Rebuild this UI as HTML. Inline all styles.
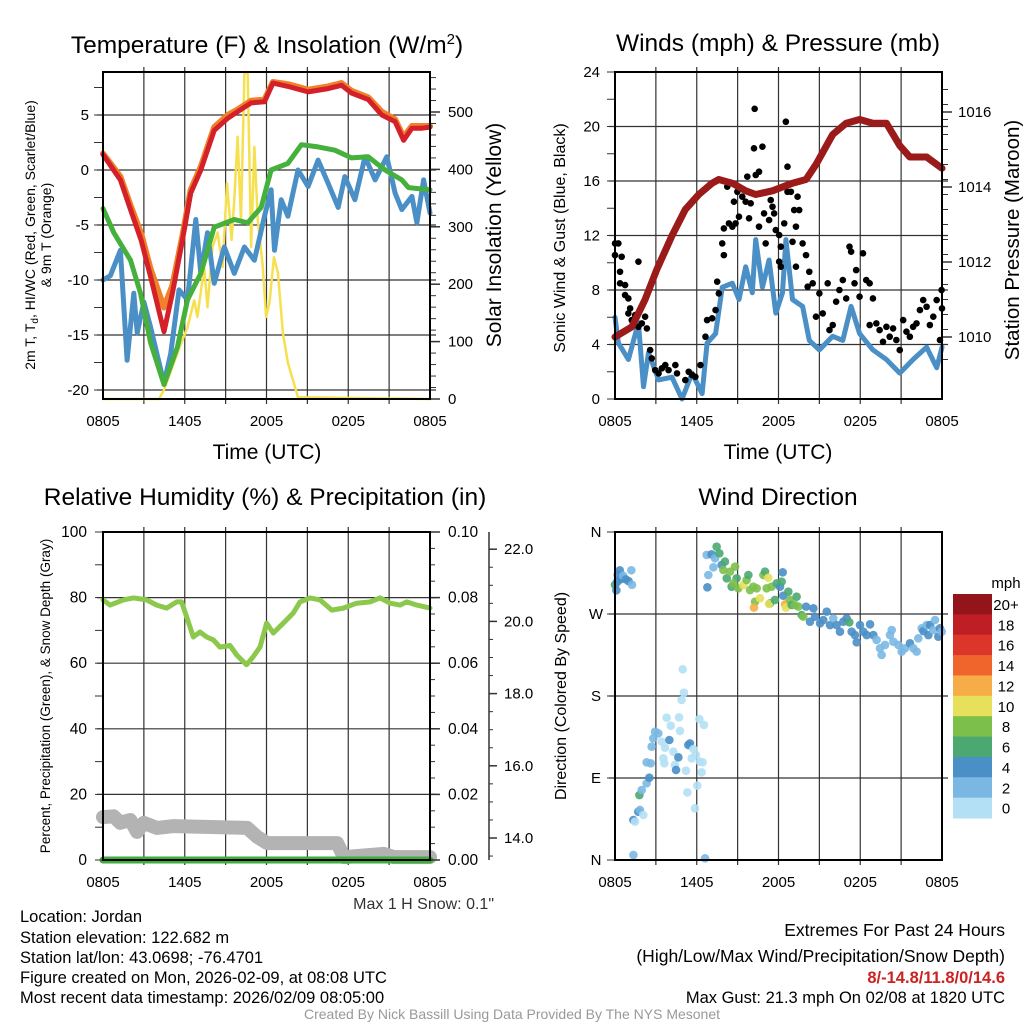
<!DOCTYPE html>
<html><head><meta charset="utf-8"><style>
html,body{margin:0;padding:0;background:#fff}
svg{display:block;font-family:"Liberation Sans",sans-serif}
</style></head><body>
<svg id="fig" xmlns="http://www.w3.org/2000/svg" width="1024" height="1024" viewBox="0 0 1024 1024">
<rect width="1024" height="1024" fill="#fff"/>
<g font-size="24.5" text-anchor="middle" fill="#000">
<text x="267" y="53">Temperature (F) &amp; Insolation (W/m<tspan dy="-9" font-size="15">2</tspan><tspan dy="9">)</tspan></text>
<text x="778" y="51">Winds (mph) &amp; Pressure (mb)</text>
<text x="265" y="505">Relative Humidity (%) &amp; Precipitation (in)</text>
<text x="778" y="505">Wind Direction</text>
</g>
<g font-size="21" text-anchor="middle">
<text x="267" y="459">Time (UTC)</text>
<text x="778" y="459">Time (UTC)</text>
</g>
<text transform="translate(35,235) rotate(-90)" font-size="14" text-anchor="middle">2m T, T<tspan font-size="10" dy="3">d</tspan><tspan dy="-3">, HI/WC (Red, Green, Scarlet/Blue)</tspan></text>
<text transform="translate(51,235) rotate(-90)" font-size="14" text-anchor="middle">&amp; 9m T (Orange)</text>
<text transform="translate(501,235) rotate(-90)" font-size="21" text-anchor="middle">Solar Insolation (Yellow)</text>
<text transform="translate(565,238) rotate(-90)" font-size="16" text-anchor="middle">Sonic Wind &amp; Gust (Blue, Black)</text>
<text transform="translate(1019,240) rotate(-90)" font-size="20.5" text-anchor="middle">Station Pressure (Maroon)</text>
<text transform="translate(50,696) rotate(-90)" font-size="13.5" text-anchor="middle">Percent, Precipitation (Green), &amp; Snow Depth (Gray)</text>
<text transform="translate(566,696) rotate(-90)" font-size="16" text-anchor="middle">Direction (Colored By Speed)</text>
<text x="1006" y="588" font-size="15" text-anchor="middle">mph</text>
<text x="494" y="909" font-size="16" text-anchor="end" fill="#333">Max 1 H Snow: 0.1"</text>
<g font-size="16.5" fill="#000">
<text x="20" y="922">Location: Jordan</text>
<text x="20" y="943">Station elevation: 122.682 m</text>
<text x="20" y="963">Station lat/lon: 43.0698; -76.4701</text>
<text x="20" y="983">Figure created on Mon, 2026-02-09, at 08:08 UTC</text>
<text x="20" y="1003">Most recent data timestamp: 2026/02/09 08:05:00</text>
</g>
<g font-size="17.5" text-anchor="end">
<text x="1005" y="936">Extremes For Past 24 Hours</text>
<text x="1005" y="962">(High/Low/Max Wind/Precipitation/Snow Depth)</text>
<text x="1005" y="983" fill="#cc2222" font-weight="bold" font-size="16.5">8/-14.8/11.8/0/14.6</text>
<text x="1005" y="1003" font-size="16.5">Max Gust: 21.3 mph On 02/08 at 1820 UTC</text>
</g>
<text x="512" y="1019" font-size="14" fill="#999" text-anchor="middle">Created By Nick Bassill Using Data Provided By The NYS Mesonet</text>
</svg>
<script>
// ---------- DATA ----------
const xTickLabels = ["0805","1405","2005","0205","0805"];
const tempTicks = [5,0,-5,-10,-15,-20];
const solarTicks = [0,100,200,300,400,500];
const windTicks = [0,4,8,12,16,20,24];
const pressTicks = [1010,1012,1014,1016];
const rhTicks = [0,20,40,60,80,100];
const precipTickLabels = ["0.00","0.02","0.04","0.06","0.08","0.10"];
const snowTicks = [14,16,18,20,22];
const dirLabels = ["N","E","S","W","N"];
const dirTicks = [0,90,180,270,360];
const speedBinLabels = ["20+","18","16","14","12","10","8","6","4","2","0"];
const speedBinColors = ["#941519","#be1e24","#dc352a","#ef652b","#f7ad47","#e6e05a","#7cc04b","#4aa870","#4a8fc6","#7ab8e3","#b3e0f5"];

const redT = [0,1.28,2.02,2.80,3.49,4.48,5.09,5.83,6.44,7.18,8.16,9.15,9.88,10.87,11.85,12.47,13.57,15.05,16.52,17.51,18.24,19.47,20.46,21.44,22.06,22.67,23.41,24];
const redV = [1.4,-0.9,-3.6,-6.4,-9.7,-14.7,-11.2,-6.4,-2.1,0,3.6,4.7,5.3,6.1,6.2,7.9,7.6,7.1,7.4,7.7,7.0,6.4,5.0,4.4,2.7,3.8,3.8,3.9];
const orangeV = [1.5,-0.6,-3.2,-5.8,-9.0,-12.5,-10.5,-6.0,-1.8,0.3,3.9,5.0,5.5,6.3,6.4,8.0,7.8,7.3,7.6,7.9,7.2,6.6,5.3,4.6,3.0,4.0,4.0,4.0];
const greenT = [0,0.79,2.02,2.75,3.49,4.48,5.46,6.2,7.18,8.16,9.64,10.62,11.61,12.34,13.57,14.56,15.79,17.02,18.24,19.47,20.7,21.93,22.42,24];
const greenV = [-3.5,-5.7,-8.2,-11.2,-15.7,-19.5,-16.1,-11.8,-9.4,-5.2,-4.5,-4.8,-3.4,0,0.6,2.3,2.1,1.8,1.1,1.2,0,-0.9,-1.6,-1.8];
const blueT = [0,0.54,1.28,1.77,2.26,2.51,3.0,3.49,4.48,4.97,5.58,6.2,6.81,7.18,7.67,8.16,8.9,9.64,10.38,11.11,11.85,12.34,12.59,13.08,13.57,14.31,15.05,15.79,16.52,17.26,17.75,18.49,19.23,19.97,20.83,21.44,21.93,22.67,23.04,23.53,24];
const blueV = [-10,-9.6,-7.3,-17.3,-11.2,-14.8,-12,-14.3,-19.4,-16.7,-10.9,-11.8,-4.5,-9.4,-5.7,-10.3,-7,-9.4,-7,-8.2,-4.2,-1.8,-7.3,-2.7,-4.2,0,-1.5,0.9,-1.2,-3.4,-0.6,-2.7,1.2,-0.9,1.2,-2.1,-3.6,-2.4,-4.8,-0.9,-3.9];
const solarT = [0,4.11,4.48,5.46,6.2,6.69,6.93,7.43,7.67,8.04,8.41,8.78,9.1,9.44,9.64,9.88,10.13,10.38,10.62,10.87,11.11,11.36,11.73,11.97,12.22,12.54,12.84,13.2,13.57,14.31,24];
const solarV = [0,0,16,80,125,172,143,230,160,265,290,230,376,277,347,457,312,568,568,265,439,312,230,143,167,247,220,115,63,3,0];

const pressT = [0,1.23,2.21,3.07,4.18,5.16,6.15,7.13,7.62,8.61,9.59,10.33,11.56,13.03,14.02,14.75,15.98,16.97,17.95,18.93,19.92,20.9,21.64,22.87,24];
const pressV = [1010.0,1010.27,1011.0,1011.8,1012.7,1013.4,1013.8,1014.1,1014.2,1014.1,1013.9,1013.8,1013.9,1014.1,1014.2,1014.6,1015.4,1015.7,1015.8,1015.7,1015.7,1015.1,1014.8,1014.8,1014.5];
const windT = [0,0.25,0.98,1.72,2.09,2.46,3.2,4.18,4.92,5.66,6.39,6.76,7.38,7.87,8.61,9.1,9.59,10.08,10.33,10.82,11.31,11.8,12.29,12.54,13.03,13.77,14.26,15.0,15.98,16.72,17.33,17.95,18.93,19.92,20.9,21.88,22.87,23.61,24];
const windV = [6.0,4.1,2.9,5.6,0.9,3.4,1.4,1.6,0,1.9,0.4,4.1,4.8,8.2,8.5,7.3,9.7,7.8,11.7,8.2,10.2,6.3,7.8,11.7,7.3,6.8,4.3,3.6,4.6,4.3,6.8,4.8,3.6,2.9,1.9,2.9,3.8,2.3,3.8];
const gustT = [0,0.25,0,0.37,0.37,0.74,0.49,0.74,0.98,1.11,0.98,1.23,1.48,1.72,1.72,1.97,2.21,2.34,2.58,2.70,2.95,3.20,3.44,3.69,3.93,4.43,4.55,5.16,5.41,5.66,5.90,6.27,6.64,6.76,7.13,7.38,7.62,7.50,7.99,7.87,7.99,8.36,8.61,8.85,9.10,8.24,8.73,8.98,9.34,9.59,9.71,9.84,9.96,10.20,10.33,10.57,10.82,10.94,10.57,11.06,11.31,11.56,11.68,11.43,11.80,12.05,12.17,12.05,12.17,12.42,12.54,12.66,12.66,12.91,13.03,13.15,13.28,13.40,13.52,13.77,14.02,13.28,14.26,14.14,14.51,14.75,15.00,15.25,15.61,15.74,15.98,16.23,16.47,16.72,16.97,17.21,17.33,17.58,17.70,17.95,18.20,18.44,18.69,18.93,18.69,19.18,19.42,19.67,19.92,20.16,20.41,20.65,20.90,21.15,21.39,21.64,21.88,22.13,22.38,22.62,22.87,23.11,23.36,23.61,23.85,23.97,24.0,10.25];
const gustV = [11.42,11.42,10.56,9.34,8.49,8.36,10.44,7.63,7.38,6.65,6.28,5.79,6.16,10.08,5.30,5.55,6.04,5.18,3.59,2.98,2.12,1.88,2.25,2.49,2.12,2.49,1.88,1.39,2.00,1.76,1.63,2.49,4.57,5.79,5.92,6.53,7.75,8.61,10.56,11.42,12.52,12.89,12.65,12.89,13.38,15.58,14.48,15.21,14.85,14.48,16.32,13.26,14.36,18.40,16.44,16.68,18.52,13.62,12.65,11.42,13.13,14.11,13.62,14.60,12.40,12.03,11.18,10.08,9.71,12.89,20.35,17.05,15.21,15.21,11.54,13.87,12.65,14.85,13.87,11.42,10.56,9.71,9.34,8.24,8.49,6.04,7.75,6.28,8.49,5.06,5.43,7.14,8.00,8.73,7.38,11.18,10.81,8.49,9.46,7.51,10.69,8.73,8.49,7.38,5.43,5.55,5.06,4.20,5.30,4.57,5.18,4.33,3.59,5.79,4.94,4.57,5.30,5.55,6.53,7.26,6.77,5.43,6.04,7.26,4.33,8.00,6.65,21.3];

const rhT = [0,0.52,1.5,2.23,3.2,3.94,4.67,5.41,5.77,6.14,6.63,7.12,7.61,8.1,8.58,9.32,9.81,10.54,11.03,11.52,12.01,12.5,13.23,13.97,14.46,15.19,15.93,16.79,17.64,18.62,19.6,20.33,21.07,21.8,22.29,23.03,24];
const rhV = [79.3,77.7,79.3,79.9,79.3,77.7,76.8,78.7,78.7,74.1,68,69.5,68,67.1,64.9,65.4,62.5,59.5,62,64.9,72.2,69.2,72.2,75.3,78.7,79.9,79.3,76.2,76.8,78.3,78.7,79.9,78.3,77.7,78.7,77.7,76.8];
const precipT = [0,24];
const precipV = [0,0];
const snowT = [0,0.78,1.27,2.01,2.5,2.98,3.96,5.2,10.58,11.32,12.05,17.19,17.68,20.62,21.35,24];
const snowV = [14.58,14.6,14.42,14.5,14.17,14.42,14.28,14.33,14.28,14.03,13.86,13.86,13.47,13.56,13.47,13.47];

const dirT = [0,0.1,0.15,0.2,0.35,0.4,0.5,0.6,0.8,1.0,1.2,1.25,
6.73,7.09,7.34,7.46,7.66,6.85,6.78,7.22,7.83,8.07,7.95,8.20,8.44,8.56,8.81,8.93,8.69,9.05,9.42,9.66,9.79,9.91,10.15,10.28,10.40,10.64,10.20,10.89,11.01,11.25,11.13,11.38,11.30,11.50,11.74,11.87,12.11,12.31,12.23,12.35,12.48,12.55,12.72,12.84,12.97,13.21,13.33,13.46,13.70,13.82,14.02,14.31,14.56,14.68,15.05,15.29,15.54,15.78,16.02,16.27,16.51,16.76,17.00,17.20,17.37,17.61,17.74,17.98,18.23,18.47,18.72,18.96,19.20,19.45,19.57,19.82,20.18,20.31,20.43,20.80,21.04,21.28,21.65,21.90,22.14,22.26,22.51,22.63,22.87,23.00,23.12,23.36,23.49,23.73,23.85,23.98,
1.35,6.61,1.35,1.47,1.71,1.83,2.08,1.79,1.96,2.32,2.52,2.32,2.62,2.69,2.81,2.94,3.18,3.43,3.79,4.09,3.99,3.67,3.55,3.62,4.28,4.40,4.48,4.65,4.77,4.70,4.89,5.06,4.97,5.21,5.31,5.38,5.50,5.63,5.75,5.94,6.19,6.53,6.24,6.43,6.36,6.04,5.87];
const dirV = [302,296,305,313,318,308,310,312,308,306,318,302,
334.8,335.5,331.1,343.9,336.6,312.8,299.3,321.2,323.8,327.5,318.3,309.2,316.5,300.0,322.0,309.2,303.7,298.2,301.8,307.3,312.8,296.3,300.0,283.5,298.2,287.2,277.0,312.8,316.5,309.9,298.2,281.7,281.0,300.0,285.4,303.7,300.0,315.7,305.5,290.1,280.6,277.0,294.5,285.4,279.9,279.9,289.0,278.1,268.9,267.1,278.1,261.6,276.2,267.1,259.8,263.4,272.6,257.9,265.2,257.9,250.6,261.6,265.2,260.9,250.6,246.9,238.9,257.9,250.6,246.9,258.7,246.9,241.5,232.3,225.0,236.0,246.9,252.4,239.6,236.0,228.7,232.3,237.8,232.3,228.7,243.3,254.3,251.3,257.9,246.9,257.9,252.4,263.4,245.1,254.3,250.6,
5.5,1.8,43.9,42.1,53.0,54.9,49.4,71.3,76.8,84.1,90.3,107.2,106.1,124.4,133.5,140.8,139.0,129.9,156.2,147.4,131.7,123.3,111.6,106.1,118.9,104.3,98.8,112.7,141.6,156.6,175.6,183.6,209.3,98.0,74.2,126.2,128.0,111.6,121.8,115.2,154.7,148.2,107.9,107.2,96.2,81.6,56.7];
const dirSpeed = [7,5,5,5,5,5,5,3,5,5,3,3,
3,5,3,7,7,3,5,3,5,7,9,7,9,7,9,7,9,9,11,9,7,9,9,9,9,11,13,9,7,11,9,7,11,9,7,7,5,5,7,5,13,11,7,9,7,9,7,9,7,9,5,5,5,5,5,5,5,5,3,5,5,5,5,7,5,5,5,5,5,5,5,5,3,3,3,3,3,3,3,3,3,3,5,3,3,3,3,5,3,5,5,3,3,5,5,3,
3,3,5,1,5,3,1,7,3,3,5,3,3,3,3,3,3,1,1,1,5,1,1,1,1,1,5,5,1,1,1,1,1,1,1,5,5,1,1,1,1,1,1,1,1,1,1];

// ---------- DRAW ----------
const NS = "http://www.w3.org/2000/svg";
const svg = document.getElementById("fig");
function mk(tag, attrs, parent) {
  const e = document.createElementNS(NS, tag);
  for (const k in attrs) e.setAttribute(k, attrs[k]);
  (parent || svg).appendChild(e);
  return e;
}
const P1 = {x0:103,x1:430,y0:72,y1:399};
const P2 = {x0:615,x1:942,y0:72,y1:399};
const P3 = {x0:103,x1:430,y0:532,y1:860};
const P4 = {x0:615,x1:942,y0:532,y1:860};
const xs = (P, t) => P.x0 + t * (P.x1 - P.x0) / 24;
const yTemp = v => 170 - v * 11;
const ySolar = v => 399 - v * 0.574;
const yWind = v => 399 - v * 13.625;
const yPress = v => 337 - (v - 1010) * 37.5;
const yRH = v => 860 - v * 3.28;
const ySnow = v => 838 - (v - 14) * 36.1;
const yDir = v => 860 - v * 328 / 360;

function grid(P, name, hvals) {
  const g = mk("g", {stroke:"#333", "stroke-width":"1.2"});
  
  
  for (let i = 1; i < 8; i++) {
    const x = P.x0 + i * (P.x1 - P.x0) / 8;
    mk("line", {x1:x, x2:x, y1:P.y0 - 5, y2:P.y1 + 5}, g);
  }
  hvals.forEach(y => mk("line", {x1:P.x0 - 6, x2:P.x1 + 6, y1:y, y2:y}, g));
}
function frame(P, name) {
  const r = mk("rect", {x:P.x0, y:P.y0, width:P.x1-P.x0, height:P.y1-P.y0, fill:"none", stroke:"#000", "stroke-width":"2"});
  
  
  xTickLabels.forEach((lab, i) => {
    const x = P.x0 + i * (P.x1 - P.x0) / 4;
    const t = mk("text", {x:x, y:P.y1 + 27, "font-size":"15", "text-anchor":"middle"});
    t.textContent = lab;
    
    
  });
}
function yLabels(vals, yf, x, anchor, name, fmt, size) {
  vals.forEach((v, i) => {
    const t = mk("text", {x:x, y:yf(v) + 5, "font-size":size || "15", "text-anchor":anchor});
    t.textContent = fmt ? fmt(v, i) : v;
    
    
  });
}
function ticks(x, ys, len, w) {
  const g = mk("g", {stroke:"#333", "stroke-width": w || "1"});
  ys.forEach(y => mk("line", {x1:x, x2:x + len, y1:y, y2:y}, g));
}
function line(T, V, P, yf, color, width, name) {
  const d = T.map((t, i) => (i ? "L" : "M") + xs(P, t).toFixed(1) + " " + yf(V[i]).toFixed(1)).join(" ");
  const p = mk("path", {d:d, fill:"none", stroke:color, "stroke-width":width, "stroke-linejoin":"round", "stroke-linecap":"round"});
  
  
}
const range = (a, b, s) => { const r = []; for (let v = a; v <= b + 1e-9; v += s) r.push(v); return r; };

// Panel 1
grid(P1, "temperature", tempTicks.map(yTemp));
line(solarT, solarV, P1, ySolar, "#f7e04f", 2.5, "solar-insolation-line");
line(blueT, blueV, P1, yTemp, "#4a8fc6", 5, "wind-chill-line");
line(greenT, greenV, P1, yTemp, "#45b03c", 5, "dewpoint-line");
line(redT, orangeV, P1, yTemp, "#f0802a", 6, "temperature-9m-line");
line(redT, redV, P1, yTemp, "#d42028", 5, "temperature-2m-line");
ticks(P1.x0 - 9, range(-20, 7.5, 2.5).map(yTemp), 9);
ticks(P1.x1, range(0, 560, 20).map(ySolar), 6);
ticks(P1.x1, solarTicks.map(ySolar), 10, 1.5);
frame(P1, "temperature");
yLabels(tempTicks, yTemp, 89, "end", "temperature-y-tick-label");
yLabels(solarTicks, ySolar, 448, "start", "solar-y-tick-label");

// Panel 2
grid(P2, "winds", windTicks.slice(1, 6).map(yWind));
line(windT, windV, P2, yWind, "#4a8fc6", 5, "sonic-wind-line");
gustT.forEach((t, i) => {
  const c = mk("circle", {cx:xs(P2, t), cy:yWind(gustV[i]), r:3.3, fill:"#000"});
  
  
});
line(pressT, pressV, P2, yPress, "#9b1a1a", 7, "station-pressure-line");
ticks(P2.x0 - 8, range(0, 24, 2).map(yWind), 8);
ticks(P2.x1, range(1009.4, 1016.6, 0.4).map(yPress), 6);
ticks(P2.x1, pressTicks.map(yPress), 10, 1.5);
frame(P2, "winds");
yLabels(windTicks, yWind, 600, "end", "wind-y-tick-label");
yLabels(pressTicks, yPress, 958, "start", "pressure-y-tick-label");

// Panel 3
grid(P3, "humidity", [20,40,60,80].map(yRH));
line(snowT, snowV, P3, ySnow, "#b3b3b3", 14, "snow-depth-line");
line(precipT, precipV, P3, yRH, "#3fac3c", 7, "precipitation-line");
line(rhT, rhV, P3, yRH, "#8cc84b", 5, "relative-humidity-line");
ticks(P3.x0 - 8, range(0, 100, 10).map(yRH), 8);
ticks(P3.x1, range(0, 100, 5).map(yRH), 5);
ticks(P3.x1, rhTicks.map(yRH), 10, 1.5);
frame(P3, "humidity");
yLabels(rhTicks, yRH, 87, "end", "humidity-y-tick-label", null, "15.5");
yLabels(rhTicks, yRH, 448, "start", "precip-y-tick-label", (v, i) => precipTickLabels[i], "15.5");
const snowAx = mk("line", {x1:489, x2:489, y1:yRH(100), y2:yRH(0), stroke:"#333", "stroke-width":"1.5"});


ticks(489, range(13.5, 22.4, 0.5).map(ySnow), 4);
ticks(489, snowTicks.map(ySnow), 8, 1.5);
yLabels(snowTicks, ySnow, 504, "start", "snow-y-tick-label", v => v.toFixed(1), "15");

// Panel 4
grid(P4, "direction", [90,180,270].map(yDir));
dirT.forEach((t, i) => {
  const bin = Math.min(10, Math.floor(dirSpeed[i] / 2));
  const c = mk("circle", {cx:xs(P4, t), cy:yDir(dirV[i]), r:4.3, fill:speedBinColors[10 - bin], "fill-opacity":"0.9"});
  
  
});
ticks(P4.x0 - 8, dirTicks.map(yDir), 8);
frame(P4, "direction");
yLabels(dirTicks, yDir, 596, "middle", "direction-y-tick-label", (v, i) => dirLabels[i]);
speedBinColors.forEach((col, i) => {
  const y = 594 + i * 224 / 11;
  const r = mk("rect", {x:953, y:y, width:39, height:224 / 11 + 0.5, fill:col});
  
  
  const t = mk("text", {x:1006, y:y + 16, "font-size":"15", "text-anchor":"middle"});
  t.textContent = speedBinLabels[i];
  
  
});
</script>
</body></html>
